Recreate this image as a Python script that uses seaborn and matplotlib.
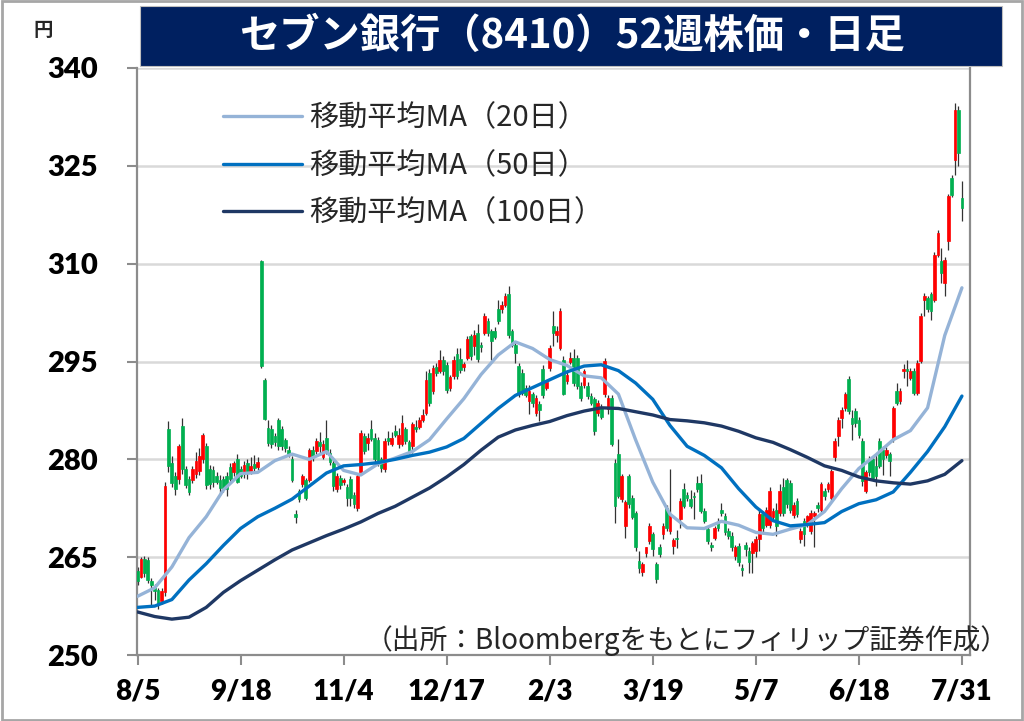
import numpy as np
import pandas as pd
import matplotlib
matplotlib.use('Agg')
import matplotlib.pyplot as plt
import seaborn as sns
from matplotlib.patches import Rectangle

# Daily candles 8/5 .. 7/31 (241 trading days)
open_px = [
    262.9, 262.0, 264.7, 264.5, 261.3, 260.5, 259.9, 258.3, 259.6, 284.6,   # 0
    279.5, 277.5, 277.0, 285.1, 278.5, 277.0, 276.8, 277.7, 278.2, 280.0,   # 10
    282.0, 278.5, 278.3, 277.5, 276.9, 277.0, 277.5, 278.9, 278.0, 280.0,   # 20
    278.5, 277.8, 279.5, 278.2, 279.3, 278.8, 310.4, 292.2, 284.8, 284.6,   # 30
    283.6, 286.1, 284.6, 283.0, 281.5, 280.0, 271.6, 275.2, 276.2, 276.9,   # 40
    276.9, 281.5, 281.3, 282.6, 280.3, 283.3, 281.0, 279.5, 275.4, 277.2,   # 50
    276.5, 275.7, 277.0, 274.5, 272.6, 278.0, 283.6, 282.5, 284.7, 283.3,   # 60
    283.0, 280.0, 278.5, 283.3, 282.3, 284.3, 282.3, 282.3, 284.6, 282.6,   # 70
    282.0, 285.0, 285.0, 286.1, 287.1, 293.3, 290.5, 294.2, 293.5, 295.3,   # 80
    294.5, 291.0, 292.8, 296.2, 295.4, 294.2, 295.6, 298.9, 297.3, 299.4,   # 90
    297.5, 299.4, 301.2, 299.6, 299.6, 303.1, 303.0, 303.7, 305.3, 299.6,   # 100
    297.6, 294.3, 293.3, 290.9, 289.0, 290.0, 287.1, 288.5, 293.8, 291.0,   # 110
    294.0, 300.4, 299.0, 297.1, 295.3, 292.0, 295.0, 295.6, 295.6, 291.3,   # 120
    291.4, 291.3, 289.7, 289.2, 287.1, 288.0, 290.0, 287.7, 289.4, 279.5,   # 130
    280.8, 273.9, 269.8, 277.4, 274.0, 271.8, 264.4, 262.7, 265.7, 267.5,   # 140
    268.5, 263.9, 266.5, 268.5, 272.6, 269.0, 266.7, 268.0, 270.8, 275.4,   # 150
    274.6, 273.9, 274.4, 276.4, 276.4, 272.1, 269.3, 266.9, 268.0, 270.3,   # 160
    272.2, 271.3, 269.0, 268.3, 265.2, 266.7, 263.4, 266.8, 266.0, 265.7,   # 170
    266.0, 267.8, 271.6, 270.0, 270.0, 271.1, 272.3, 271.8, 275.7, 276.9,   # 180
    276.4, 271.5, 273.6, 267.8, 270.6, 270.0, 269.0, 271.3, 273.0, 272.3,   # 190
    275.2, 275.4, 274.1, 280.3, 283.6, 286.4, 287.9, 292.3, 286.4, 287.4,   # 200
    286.1, 282.8, 275.2, 280.0, 280.0, 279.0, 282.8, 281.5, 280.6, 280.8,   # 210
    283.1, 290.5, 288.9, 293.5, 293.8, 292.5, 293.5, 290.2, 295.1, 304.5,   # 220
    304.7, 305.3, 304.5, 311.4, 310.4, 307.0, 313.4, 323.1, 325.9, 333.6,   # 230
    320.0,                                                                  # 240
]
high_px = [
    263.5, 265.0, 265.2, 265.0, 261.8, 260.9, 260.2, 260.3, 276.5, 285.9,
    280.5, 278.0, 282.3, 286.3, 279.0, 277.4, 279.0, 281.2, 281.8, 284.0,
    282.5, 279.2, 279.0, 278.0, 277.6, 277.5, 278.0, 279.4, 279.8, 280.8,
    279.0, 279.8, 280.1, 280.4, 280.6, 280.3, 310.6, 292.5, 286.0, 285.3,
    284.0, 286.4, 285.1, 283.3, 282.0, 280.5, 272.3, 275.5, 277.8, 277.2,
    281.8, 282.0, 283.2, 284.2, 283.0, 286.1, 281.6, 280.0, 277.9, 277.6,
    277.2, 276.2, 277.5, 275.0, 277.8, 284.5, 284.0, 284.0, 286.1, 284.0,
    283.4, 280.4, 283.2, 284.4, 284.2, 285.2, 284.8, 286.8, 285.0, 283.0,
    285.8, 286.0, 286.5, 287.7, 293.6, 293.8, 294.4, 294.8, 296.8, 295.8,
    295.0, 293.0, 295.8, 297.1, 297.0, 295.0, 298.9, 299.2, 299.8, 300.8,
    298.0, 302.4, 301.6, 300.0, 300.3, 304.5, 304.2, 305.5, 306.5, 300.0,
    298.0, 294.8, 293.8, 291.4, 291.4, 290.4, 289.8, 289.0, 294.4, 292.2,
    297.5, 302.7, 300.5, 303.2, 295.8, 293.5, 296.4, 296.9, 296.0, 291.8,
    293.8, 291.8, 290.2, 289.6, 289.1, 288.5, 295.6, 289.8, 289.8, 280.0,
    283.1, 277.8, 273.8, 277.8, 274.5, 272.1, 265.9, 264.3, 266.6, 270.3,
    268.9, 264.3, 267.0, 270.3, 273.0, 278.5, 268.0, 269.2, 274.0, 276.3,
    275.0, 275.3, 275.0, 277.4, 277.7, 272.5, 269.8, 267.3, 269.8, 271.0,
    273.3, 271.8, 269.4, 268.8, 266.9, 267.2, 264.0, 267.3, 266.5, 267.5,
    268.2, 272.6, 272.1, 272.7, 275.7, 272.5, 273.3, 276.2, 277.2, 277.2,
    276.8, 273.4, 274.0, 269.4, 271.0, 271.5, 272.2, 272.1, 273.4, 276.6,
    275.6, 276.6, 278.5, 283.2, 286.5, 288.0, 290.4, 292.8, 287.6, 287.8,
    286.5, 283.2, 278.4, 280.5, 280.5, 280.8, 283.3, 282.0, 281.9, 281.2,
    288.2, 291.7, 290.9, 294.6, 295.3, 294.0, 294.0, 295.2, 302.4, 305.5,
    305.1, 305.7, 311.8, 315.1, 312.4, 311.0, 320.7, 323.6, 334.6, 334.1,
    322.6,
]
low_px = [
    260.8, 261.8, 262.0, 261.0, 257.6, 258.5, 257.0, 257.8, 259.0, 278.0,
    275.8, 274.6, 276.2, 277.8, 275.6, 274.5, 276.4, 277.2, 277.6, 279.5,
    275.5, 275.5, 275.8, 276.2, 274.6, 275.0, 274.4, 276.5, 277.5, 276.3,
    277.2, 277.2, 277.0, 277.8, 278.0, 278.4, 294.0, 286.0, 282.0, 281.8,
    282.0, 281.5, 281.4, 281.2, 280.4, 276.5, 270.3, 273.4, 275.8, 273.8,
    276.5, 279.8, 280.8, 280.6, 280.0, 280.8, 279.2, 275.2, 275.0, 275.5,
    276.0, 272.9, 272.9, 272.5, 272.1, 277.6, 280.8, 281.5, 282.8, 279.6,
    279.0, 278.0, 278.0, 282.2, 282.0, 283.4, 281.8, 282.0, 282.4, 280.8,
    281.0, 284.2, 284.6, 285.8, 286.8, 288.2, 290.0, 292.8, 293.2, 293.0,
    290.2, 290.5, 292.3, 292.3, 293.2, 293.5, 295.2, 295.3, 296.0, 295.0,
    296.5, 299.0, 298.9, 295.3, 298.4, 300.8, 302.5, 303.3, 298.6, 297.2,
    294.8, 289.6, 289.8, 289.6, 287.0, 288.0, 286.6, 285.9, 289.4, 290.6,
    293.6, 297.4, 298.0, 296.8, 289.8, 291.5, 294.6, 291.3, 290.8, 289.0,
    291.0, 289.2, 288.4, 283.8, 286.7, 286.2, 289.6, 287.0, 282.0, 270.3,
    274.0, 273.5, 268.0, 272.6, 270.8, 266.0, 262.6, 262.1, 265.0, 267.0,
    265.2, 261.1, 265.0, 267.8, 269.0, 268.6, 265.5, 266.4, 269.5, 272.5,
    273.6, 272.6, 270.9, 275.0, 271.8, 270.2, 267.0, 266.0, 267.6, 269.0,
    271.3, 268.4, 267.8, 266.0, 264.6, 263.7, 262.1, 265.2, 262.5, 262.5,
    265.0, 266.0, 268.6, 269.6, 269.5, 270.6, 268.3, 271.3, 271.3, 272.6,
    271.8, 271.0, 271.2, 267.2, 266.7, 269.6, 268.6, 266.5, 272.0, 271.8,
    273.8, 275.0, 273.6, 279.8, 282.0, 284.8, 287.4, 286.9, 283.0, 285.0,
    283.3, 275.9, 274.9, 277.4, 276.8, 275.9, 278.6, 277.6, 280.2, 277.4,
    282.7, 288.3, 288.5, 292.4, 291.3, 292.1, 289.8, 289.8, 294.7, 302.0,
    302.6, 301.4, 304.1, 311.0, 307.1, 305.0, 312.1, 320.2, 323.6, 325.0,
    316.5,
]
close_px = [
    261.4, 264.7, 262.5, 261.5, 260.8, 259.8, 257.6, 259.8, 275.9, 279.0,
    276.4, 275.5, 282.0, 278.5, 276.0, 275.0, 278.5, 279.7, 280.5, 283.8,
    276.0, 276.2, 276.5, 276.6, 275.6, 275.5, 275.5, 277.0, 279.5, 276.5,
    277.5, 279.2, 277.9, 279.0, 278.6, 279.6, 294.3, 286.2, 282.5, 282.3,
    282.6, 282.0, 282.0, 281.8, 280.8, 276.9, 271.1, 273.9, 277.5, 274.1,
    281.5, 280.3, 282.8, 282.1, 282.3, 281.3, 279.6, 275.9, 277.4, 276.0,
    276.8, 274.1, 274.1, 273.2, 277.4, 284.1, 281.3, 283.3, 283.1, 280.0,
    279.5, 278.6, 282.8, 282.8, 283.3, 283.8, 283.8, 285.6, 282.8, 281.3,
    285.4, 284.6, 286.0, 286.8, 292.2, 288.7, 294.0, 293.2, 295.3, 293.5,
    290.7, 292.6, 295.3, 292.8, 293.7, 294.6, 298.4, 295.8, 299.1, 295.4,
    297.2, 301.9, 299.4, 298.1, 298.8, 301.2, 303.7, 305.0, 299.1, 297.6,
    296.3, 290.0, 290.2, 289.9, 290.5, 288.6, 289.4, 287.6, 289.9, 291.8,
    297.1, 299.4, 299.6, 302.7, 290.0, 292.9, 295.6, 291.7, 291.2, 289.4,
    293.5, 289.7, 288.7, 284.3, 288.7, 286.5, 295.1, 289.4, 282.3, 272.9,
    274.4, 277.4, 273.4, 273.1, 271.2, 266.5, 263.4, 264.0, 266.5, 269.8,
    266.2, 261.6, 265.5, 269.8, 269.5, 271.6, 267.7, 267.8, 273.6, 272.9,
    274.1, 272.9, 274.2, 275.4, 272.1, 270.6, 267.5, 266.6, 269.4, 269.5,
    271.7, 268.8, 268.2, 266.5, 266.5, 264.2, 263.1, 266.3, 264.2, 267.2,
    267.8, 271.6, 269.4, 272.3, 275.2, 272.1, 269.8, 275.2, 271.8, 273.1,
    272.3, 273.0, 271.6, 269.0, 268.5, 271.3, 271.8, 271.8, 272.5, 276.2,
    274.4, 276.2, 278.2, 282.8, 286.1, 287.6, 290.0, 287.4, 285.4, 285.6,
    283.8, 276.7, 278.0, 278.0, 277.2, 277.5, 279.0, 280.0, 281.5, 279.8,
    287.9, 288.7, 290.5, 293.8, 293.5, 293.6, 290.2, 294.8, 302.0, 305.0,
    303.0, 302.7, 311.4, 314.7, 308.6, 310.6, 320.3, 320.6, 333.6, 326.9,
    318.5,
]

# Moving averages, read every 5 trading days (day 0, 5, ..., 240)
ma_step = 5
ma20 = [
    259.0, 260.3, 263.5, 268.0, 271.2, 275.3, 277.8, 278.0, 279.8, 280.8,
    280.0, 281.2, 278.3, 277.6, 279.3, 280.2, 281.2, 283.0, 286.2, 289.3,
    293.0, 296.0, 298.0, 297.0, 295.3, 294.4, 292.8, 292.5, 290.0, 283.0,
    276.5, 271.6, 269.5, 269.4, 270.5, 269.9, 268.8, 268.5, 269.3, 270.0,
    272.0, 275.5, 278.6, 280.7, 283.0, 284.4, 287.9, 299.0, 306.3,
]
ma50 = [
    257.3, 257.5, 258.5, 261.5, 264.0, 266.8, 269.4, 271.2, 272.5, 273.9,
    275.9, 277.9, 279.0, 279.2, 279.5, 280.0, 280.6, 281.1, 281.9, 283.2,
    285.5, 287.8, 289.8, 291.0, 292.2, 293.4, 294.3, 294.5, 293.6, 291.7,
    289.2, 285.2, 282.0, 280.6, 278.7, 275.5, 272.7, 270.6, 269.8, 270.0,
    270.3, 272.0, 273.2, 273.8, 275.0, 278.0, 281.2, 285.0, 289.7,
]
ma100 = [
    256.6, 255.9, 255.5, 255.8, 257.3, 259.6, 261.4, 263.0, 264.6, 266.1,
    267.2, 268.3, 269.3, 270.4, 271.7, 272.8, 274.2, 275.6, 277.3, 279.2,
    281.4, 283.4, 284.5, 285.2, 285.8, 286.7, 287.4, 287.9, 287.8, 287.3,
    286.8, 286.1, 285.9, 285.6, 285.1, 284.3, 283.3, 282.6, 281.5, 280.3,
    279.0, 278.3, 277.3, 276.7, 276.4, 276.2, 276.7, 277.7, 279.8,
]

date_labels = ['8/5', '9/18', '11/4', '12/17', '2/3', '3/19', '5/7', '6/18', '7/31']
label_every = 30
y_ticks = [250, 265, 280, 295, 310, 325, 340]


def main():
    sns.set_theme(style='white')
    plt.rcParams['font.family'] = ['Lato', 'Noto Sans CJK JP', 'DejaVu Sans']
    jp = ['Noto Sans CJK JP', 'DejaVu Sans']
    num = ['Lato', 'DejaVu Sans']

    df = pd.DataFrame({'open': open_px, 'high': high_px, 'low': low_px, 'close': close_px})
    df['day'] = np.arange(len(df))
    colors = np.where(df['close'] >= df['open'], '#FF0000', '#00B050')

    ma = pd.DataFrame({'day': np.arange(len(ma20)) * ma_step,
                       'ma20': ma20, 'ma50': ma50, 'ma100': ma100})

    fig = plt.figure(figsize=(10.24, 7.21), dpi=100)
    ax = fig.add_axes([137 / 1024, 1 - 655 / 721, 833 / 1024, 587 / 721])

    # candles: wick then body
    ax.vlines(df['day'], df['low'], df['high'], color='#333333', linewidth=0.9, zorder=2)
    body = (df['close'] - df['open']).abs().clip(lower=0.2)
    ax.bar(df['day'], body, bottom=np.minimum(df['open'], df['close']), width=0.8,
           color=colors, edgecolor=colors, linewidth=0.5, zorder=3)

    sns.lineplot(data=ma, x='day', y='ma20', color='#95B3D7', linewidth=2.4,
                 label='移動平均MA（20日）', ax=ax, zorder=4)
    sns.lineplot(data=ma, x='day', y='ma50', color='#0070C0', linewidth=2.4,
                 label='移動平均MA（50日）', ax=ax, zorder=4)
    sns.lineplot(data=ma, x='day', y='ma100', color='#1F3864', linewidth=2.4,
                 label='移動平均MA（100日）', ax=ax, zorder=4)

    ax.set_xlim(-0.15, 242.35)
    ax.set_ylim(250, 340)
    ax.set_xlabel('')
    ax.set_ylabel('')
    ax.set_yticks(y_ticks, labels=[str(v) for v in y_ticks],
                  fontsize=21, fontweight='heavy', family=num)
    ax.set_xticks(np.arange(len(date_labels)) * label_every, labels=date_labels,
                  fontsize=20, fontweight='heavy', family=num)
    ax.yaxis.grid(True, color='#D9D9D9', linewidth=1.8)
    ax.set_axisbelow(True)

    for side in ['left', 'right', 'bottom']:
        ax.spines[side].set_visible(True)
        ax.spines[side].set_color('#8C8C8C')
        ax.spines[side].set_linewidth(1.6)
    ax.spines['top'].set_visible(False)

    ax.tick_params(axis='y', left=True, direction='out', length=7, width=1.5,
                   color='#8C8C8C', pad=21, labelcolor='black')
    ax.tick_params(axis='x', bottom=True, direction='out', length=7, width=1.5,
                   color='#8C8C8C', pad=10, labelcolor='black')

    ax.legend(loc='upper left', bbox_to_anchor=(197 / 1024, 1 - 77 / 721),
              bbox_transform=fig.transFigure, frameon=False,
              prop={'family': jp, 'size': 21}, handlelength=2.7,
              handletextpad=0.25, labelspacing=0.6)

    # title bar
    fig.add_artist(Rectangle((140 / 1024, 1 - 66 / 721), 862 / 1024, 60 / 721,
                             transform=fig.transFigure, facecolor='#002060',
                             edgecolor='#BFBFBF', linewidth=0.8))
    fig.text(572 / 1024, 1 - 36 / 721, 'セブン銀行（8410）52週株価・日足', color='white',
             fontsize=29, fontweight='bold', family=jp, ha='center', va='center')
    fig.text(43 / 1024, 1 - 31 / 721, '円', fontsize=14, fontweight='bold',
             family=jp, ha='center', va='center')
    fig.text(1009 / 1024, 1 - 641 / 721, '（出所：Bloombergをもとにフィリップ証券作成）',
             fontsize=20, family=jp, ha='right', va='center')

    # outer frame
    fig.add_artist(Rectangle((0.0015, 0.002), 0.997, 0.996, transform=fig.transFigure,
                             fill=False, edgecolor='#A6A6A6', linewidth=2))

    fig.savefig('out.png', dpi=100)
    plt.close(fig)


if __name__ == "__main__":
    main()
